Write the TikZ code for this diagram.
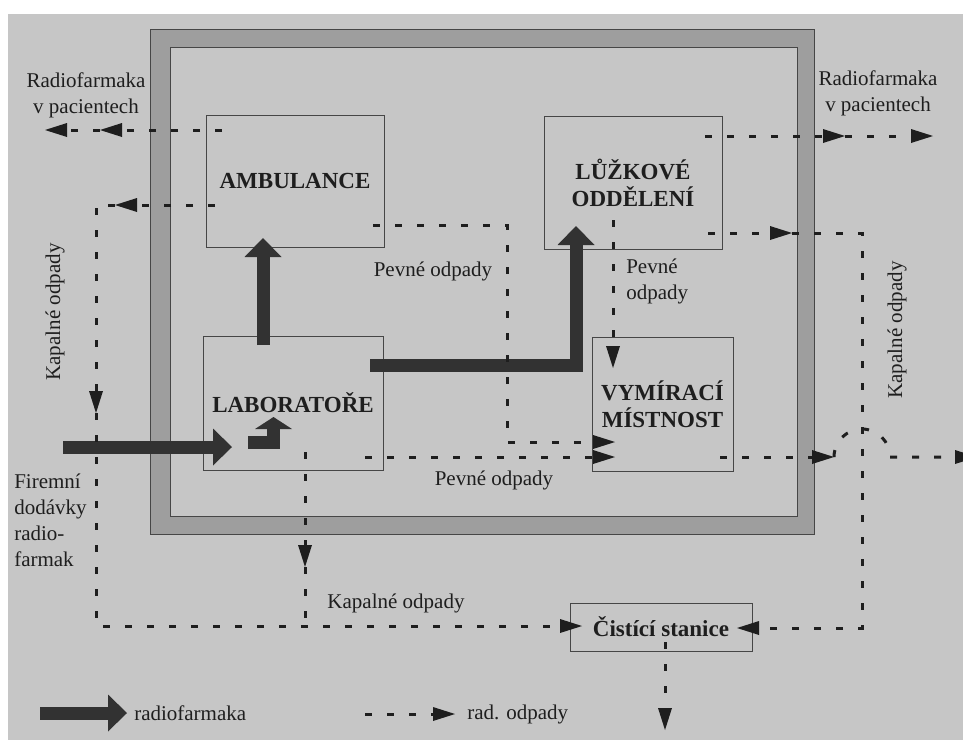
\documentclass[tikz,border=0pt]{standalone}
\usepackage{fontspec}
\setmainfont{Liberation Serif}
\usetikzlibrary{arrows.meta}
\definecolor{pagegrey}{RGB}{198,198,198}
\definecolor{framegrey}{RGB}{158,158,158}
\definecolor{inkgrey}{RGB}{30,30,30}
\definecolor{linegrey}{RGB}{70,70,70}
\definecolor{arrowgrey}{RGB}{50,50,50}
\newcommand{\popisfont}{\fontsize{15.75}{19.5}\selectfont}
\newcommand{\mistfont}{\fontsize{17.25}{20.25}\selectfont\bfseries}
\begin{document}
\begin{tikzpicture}[x=0.75pt,y=0.75pt,yscale=-1,xscale=1,
  mistnost/.style={draw=linegrey,line width=0.75pt,inner sep=0pt,align=center,font=\mistfont,text=inkgrey},
  popis/.style={inner sep=0.75pt,font=\popisfont,text=inkgrey},
  radio/.style={draw=arrowgrey,line width=9.75pt,line join=miter,-{Triangle[length=14.25pt,width=27.75pt,line width=0pt]}},
  odpad/.style={draw=inkgrey,line width=2.25pt,dash pattern=on 5.25pt off 11.25pt,-{Triangle[length=16.5pt,width=10.5pt,line width=0pt]}}]
\useasboundingbox (0,0) rectangle (963,740);
\clip (0,0) rectangle (963,740);
\fill[white] (0,0) rectangle (963,740);
\fill[pagegrey] (8,14) rectangle (963,740);
%Shape: Frame
\draw[draw=linegrey,fill=framegrey,line width=0.75pt] (150,29) rectangle (814,534);
\draw[draw=linegrey,fill=pagegrey,line width=0.75pt] (170,47) rectangle (797,516);
%Rooms
\node[mistnost,minimum width=133.5pt,minimum height=99pt] (amb) at (295,181) {AMBULANCE};
\node[mistnost,minimum width=133.5pt,minimum height=99.75pt] (luz) at (633,182.5) {LŮŽKOVÉ\\ODDĚLENÍ};
\node[mistnost,minimum width=135pt,minimum height=100.5pt] (lab) at (293,403) {LABORATOŘE};
\node[mistnost,minimum width=105.75pt,minimum height=100.5pt] (vym) at (662.5,404) {VYMÍRACÍ\\MÍSTNOST};
\node[mistnost,minimum width=136.5pt,minimum height=36pt] (cist) at (661,627) {Čistící stanice};
% Text Node
\node[popis,align=center] (pacL) at (86,95) {Radiofarmaka\\v pacientech};
\node[popis,align=center] (pacR) at (878,93) {Radiofarmaka\\v pacientech};
\node[popis,rotate=90] (kapL) at (55,312) {Kapalné odpady};
\node[popis,rotate=90] (kapR) at (897,330) {Kapalné odpady};
\node[popis] (pev1) at (433,271) {Pevné odpady};
\node[popis,align=left,anchor=west] (pev2) at (625,281) {Pevné\\odpady};
\node[popis] (pev3) at (494,480) {Pevné odpady};
\node[popis] (kap3) at (396,603) {Kapalné odpady};
\node[popis,align=left,anchor=west] (firm) at (13,520) {Firemní\\dodávky\\radio-\\farmak};
\node[popis,anchor=west] (legR) at (133,713) {radiofarmaka};
\node[popis,anchor=west] (legO) at (466,714) {rad. odpady};
%Coordinates: thick arrows
\coordinate (dod) at (63,447);
\coordinate (lab-in) at (232,447);
\coordinate (lab-up) at (263,345);
\coordinate (amb-in) at (263,238);
\coordinate (lab-r) at (370,365);
\coordinate (luz-in) at (576,226);
\coordinate (lab-s) at (248,442);
\coordinate (lab-s1) at (273.5,417);
\coordinate (legR-a) at (40,713);
\coordinate (legR-b) at (127,713);
%Coordinates: dashed arrows
\coordinate (amb-a) at (222,130);
\coordinate (amb-a1) at (100,130);
\coordinate (pac-l) at (45,130);
\coordinate (amb-b) at (215,205);
\coordinate (amb-b1) at (115,205);
\coordinate (kap-l) at (96,413);
\coordinate (kap-l1) at (96,626);
\coordinate (cist-l) at (582,626);
\coordinate (amb-c) at (373,225);
\coordinate (amb-c1) at (507,225);
\coordinate (vym-a) at (615,442);
\coordinate (lab-a) at (365,457);
\coordinate (vym-b) at (615,457);
\coordinate (lab-b) at (305,452);
\coordinate (lab-b1) at (305,567);
\coordinate (luz-a) at (613,220);
\coordinate (vym-c) at (613,368);
\coordinate (luz-b) at (705,136);
\coordinate (pac-r1) at (845,136);
\coordinate (pac-r) at (933,136);
\coordinate (luz-c) at (708,233);
\coordinate (luz-c1) at (792,233);
\coordinate (kap-r) at (862,233);
\coordinate (cist-r) at (737,628);
\coordinate (vym-d) at (720,457);
\coordinate (vym-d1) at (834,457);
\coordinate (ven) at (977,457);
\coordinate (cist-d) at (665,642);
\coordinate (cist-d1) at (665,730);
\coordinate (legO-a) at (365,714);
\coordinate (legO-b) at (455,714);
%Straight Lines: radiofarmaka
\draw[radio] (dod) -- (lab-in);
\draw[radio] (lab-up) -- (amb-in);
\draw[radio] (lab-r) -| (luz-in);
\draw[radio,-{Triangle[length=9pt,width=27.75pt,line width=0pt]}] (lab-s) -| (lab-s1);
\draw[radio] (legR-a) -- (legR-b);
%Straight Lines: odpady
\draw[odpad] (amb-a) -- (amb-a1);
\draw[odpad] (amb-a1) -- (pac-l);
\draw[odpad] (amb-b) -- (amb-b1);
\draw[odpad] (amb-b1) -| (kap-l);
\draw[odpad] (kap-l) -- (kap-l1) -- (cist-l);
\draw[odpad] (amb-c) -- (amb-c1) |- (vym-a);
\draw[odpad] (lab-a) -- (vym-b);
\draw[odpad] (lab-b) -- (lab-b1);
\draw[odpad,-] (lab-b1) -- (lab-b1 |- kap-l1);
\draw[odpad] (luz-a) -- (vym-c);
\draw[odpad] (luz-b) -- (pac-r1);
\draw[odpad] (pac-r1) -- (pac-r);
\draw[odpad] (luz-c) -- (luz-c1);
\draw[odpad] (luz-c1) -- (kap-r) |- (cist-r);
\draw[odpad] (vym-d) -- (vym-d1);
\draw[odpad] (vym-d1) arc[start angle=180,end angle=360,radius=28] -- (ven);
\draw[odpad] (cist-d) -- (cist-d1);
\draw[odpad] (legO-a) -- (legO-b);

\end{tikzpicture}
\end{document}
